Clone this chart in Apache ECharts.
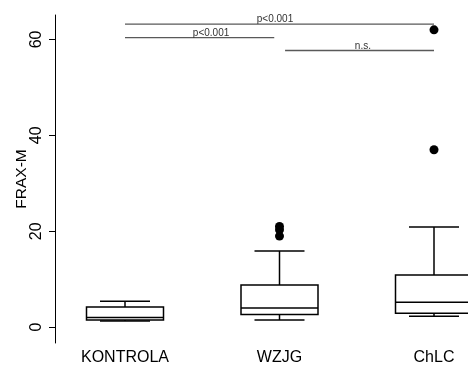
<!DOCTYPE html>
<html><head><meta charset="utf-8">
<script src="https://cdn.jsdelivr.net/npm/echarts@6/dist/echarts.min.js"></script>
<style>html,body{margin:0;padding:0;background:#fff}#c{width:468px;height:365px}</style>
</head><body><div id="c"></div>
<script>
var categories = ['KONTROLA', 'WZJG', 'ChLC'];
// [min, Q1, median, Q3, max]
var boxStats = [
  [1.3, 1.5, 2.0, 4.2, 5.4],
  [1.5, 2.65, 4.0, 8.8, 15.9],
  [2.3, 2.9, 5.2, 10.9, 20.9]
];
var outlierCat = [1, 1, 1, 2, 2];
var outlierVal = [21.0, 20.3, 19.0, 37.0, 62.0];
var yTicks = [0, 20, 40, 60];
var bracketFrom = [0, 0, 1.036];
var bracketTo = [2, 0.966, 2];
var bracketY = [63.2, 60.4, 57.7];
var bracketLabelX = [0.971, 0.557, 1.54];
var bracketText = ['p<0.001', 'p<0.001', 'n.s.'];

var boxData = boxStats.map(function (s, i) { return [i].concat(s); });
var outData = outlierCat.map(function (c, i) { return [c, outlierVal[i]]; });
var brData = bracketY.map(function (y, i) { return [bracketFrom[i], bracketTo[i], y, bracketLabelX[i], i]; });
var catIdx = categories.map(function (c, i) { return i; });

var chart = echarts.init(document.getElementById('c'), null, {renderer: 'canvas'});
chart.setOption({
  animation: false,
  grid: {left: 55, right: 3.1, top: 15, bottom: 22, containLabel: false, outerBoundsMode: 'none'},
  xAxis: {
    type: 'value', min: -0.4531, max: 2.2,
    axisLine: {show: false, onZero: false}, axisTick: {show: false}, splitLine: {show: false},
    axisLabel: {customValues: catIdx, formatter: function (v) { return categories[Math.round(v)]; },
      color: '#000', fontSize: 16, fontFamily: 'Liberation Sans', margin: 7}
  },
  yAxis: {
    type: 'value', min: -3.3, max: 65.1,
    name: 'FRAX-M', nameLocation: 'middle', nameGap: 25.5, nameRotate: 90, nameMoveOverlap: false,
    nameTextStyle: {color: '#000', fontSize: 15.5, fontFamily: 'Liberation Sans'},
    splitLine: {show: false},
    axisLine: {show: true, onZero: false, lineStyle: {color: '#000', width: 1}},
    axisTick: {show: true, length: 6, customValues: yTicks, lineStyle: {color: '#000'}},
    axisLabel: {rotate: 90, customValues: yTicks, color: '#000', fontSize: 16, fontFamily: 'Liberation Sans', margin: 10}
  },
  series: [{
    type: 'custom', data: boxData,
    renderItem: function (params, api) {
      var x = api.value(0);
      var p = function (v) { return api.coord([x, v]); };
      var pMin = p(api.value(1)), pQ1 = p(api.value(2)), pMed = p(api.value(3)), pQ3 = p(api.value(4)), pMax = p(api.value(5));
      var cx = pMin[0], hw = 38.5, cw = 25;
      var st = {stroke: '#000', lineWidth: 1.5, fill: null};
      return {type: 'group', children: [
        {type: 'line', shape: {x1: cx, y1: pMax[1], x2: cx, y2: pQ3[1]}, style: st},
        {type: 'line', shape: {x1: cx, y1: pMin[1], x2: cx, y2: pQ1[1]}, style: st},
        {type: 'line', shape: {x1: cx - cw, y1: pMax[1], x2: cx + cw, y2: pMax[1]}, style: st},
        {type: 'line', shape: {x1: cx - cw, y1: pMin[1], x2: cx + cw, y2: pMin[1]}, style: st},
        {type: 'rect', shape: {x: cx - hw, y: pQ3[1], width: 2 * hw, height: pQ1[1] - pQ3[1]}, style: {stroke: '#000', lineWidth: 1.5, fill: '#fff'}},
        {type: 'line', shape: {x1: cx - hw, y1: pMed[1], x2: cx + hw, y2: pMed[1]}, style: st}
      ]};
    }
  }, {
    type: 'scatter', data: outData, symbol: 'circle', symbolSize: 9,
    itemStyle: {color: '#000', opacity: 1}
  }, {
    type: 'custom', data: brData,
    renderItem: function (params, api) {
      var a = api.coord([api.value(0), api.value(2)]);
      var b = api.coord([api.value(1), api.value(2)]);
      var t = api.coord([api.value(3), api.value(2)]);
      return {type: 'group', children: [
        {type: 'line', shape: {x1: a[0], y1: a[1], x2: b[0], y2: b[1]}, style: {stroke: '#595959', lineWidth: 1.3}},
        {type: 'text', x: t[0], y: t[1] + 0.5, style: {text: bracketText[api.value(4)], align: 'center', verticalAlign: 'bottom', fill: '#333', fontSize: 10, fontFamily: 'Liberation Sans'}}
      ]};
    }
  }]
});
</script>
</body></html>
